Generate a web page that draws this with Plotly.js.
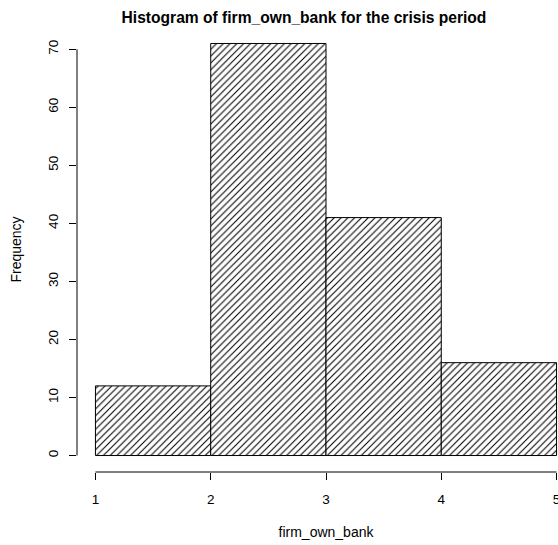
<!DOCTYPE html>
<html>
<head>
<meta charset="utf-8">
<script src="https://cdn.plot.ly/plotly-3.0.1.min.js"></script>
<style>
  html, body { margin: 0; padding: 0; background: #fff; overflow: hidden; }
  #chart { width: 576px; height: 545px; }
</style>
</head>
<body>
<div id="chart"></div>
<script>
// Histogram of firm_own_bank (crisis period): bin edges and counts per bin
const binEdges = [1, 2, 3, 4, 5];
const counts = [12, 71, 41, 16];
const xTicks = [1, 2, 3, 4, 5];
const yTicks = [0, 10, 20, 30, 40, 50, 60, 70];
const chartTitle = 'Histogram of firm_own_bank for the crisis period';
const xLabel = 'firm_own_bank';
const yLabel = 'Frequency';

const FONT = 'Liberation Sans, Arial, Helvetica, sans-serif';

// bar centres and widths come from the bin edges
const centers = counts.map((_, i) => (binEdges[i] + binEdges[i + 1]) / 2);
const widths = counts.map((_, i) => binEdges[i + 1] - binEdges[i]);

// R-style axis ranges: data range padded by 4% on each side
const xMin = binEdges[0], xMax = binEdges[binEdges.length - 1];
const xPad = (xMax - xMin) * 0.04;
const yMaxData = Math.max(...counts);
const yPad = yMaxData * 0.04;

const trace = {
  type: 'bar',
  x: centers,
  y: counts,
  width: widths,
  marker: {
    color: 'white',
    line: { color: 'black', width: 1 },
    pattern: { shape: '/', size: 4.8, solidity: 0.22, fgcolor: 'black', bgcolor: 'white', fillmode: 'replace' }
  },
  hoverinfo: 'x+y'
};

const axisFont = { family: FONT, size: 13.5, color: 'black' };

const layout = {
  width: 576,
  height: 545,
  margin: { l: 77, r: 1, t: 27, b: 73 },
  paper_bgcolor: 'white',
  plot_bgcolor: 'white',
  showlegend: false,
  bargap: 0,
  title: {
    text: chartTitle,
    font: { family: FONT, size: 15.6, color: 'black', weight: 'bold' },
    xref: 'container', x: 304 / 576, xanchor: 'center',
    yref: 'container', y: 1 - 18 / 545, yanchor: 'middle'
  },
  xaxis: {
    range: [xMin - xPad, xMax + xPad],
    tickvals: xTicks,
    ticktext: xTicks.map(String),
    ticks: 'outside', ticklen: 7, tickwidth: 1, tickcolor: 'black',
    ticklabelstandoff: 8,
    tickfont: axisFont,
    showline: false, zeroline: false, showgrid: false,
    title: { text: xLabel, font: { family: FONT, size: 14, color: 'black' }, standoff: 20 }
  },
  yaxis: {
    range: [-yPad, yMaxData + yPad],
    tickvals: yTicks,
    ticktext: yTicks.map(String),
    tickangle: -90,
    ticks: 'outside', ticklen: 7, tickwidth: 1, tickcolor: 'black',
    ticklabelstandoff: 6,
    tickfont: axisFont,
    showline: false, zeroline: false, showgrid: false,
    title: { text: yLabel, font: { family: FONT, size: 14, color: 'black' }, standoff: 20 }
  },
  // axis lines spanning only first to last tick
  shapes: [
    { type: 'line', xref: 'x', yref: 'paper', x0: xTicks[0], x1: xTicks[xTicks.length - 1], y0: 0, y1: 0,
      line: { color: 'black', width: 1 } },
    { type: 'line', xref: 'paper', yref: 'y', x0: 0, x1: 0, y0: yTicks[0], y1: yTicks[yTicks.length - 1],
      line: { color: 'black', width: 1 } }
  ]
};

Plotly.newPlot('chart', [trace], layout, { staticPlot: true, displayModeBar: false });
</script>
</body>
</html>
